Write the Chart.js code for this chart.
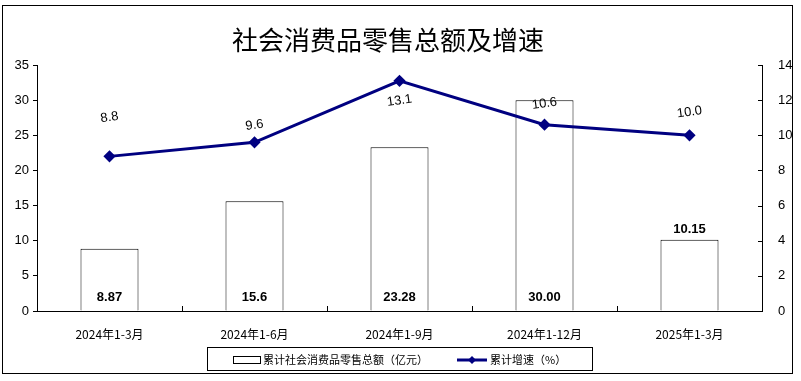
<!DOCTYPE html>
<html>
<head>
<meta charset="utf-8">
<script src="https://cdn.jsdelivr.net/npm/chart.js@4"></script>
<style>
  body { margin: 0; background: #fff; }
  #wrap { width: 801px; height: 381px; }
</style>
</head>
<body>
<div id="wrap"><canvas id="salesChart" width="801" height="381"></canvas></div>
<script>
const categories = ["2024年1-3月", "2024年1-6月", "2024年1-9月", "2024年1-12月", "2025年1-3月"];
const retailSales = [8.87, 15.6, 23.28, 30.00, 10.15];
const salesLabels = ["8.87", "15.6", "23.28", "30.00", "10.15"];
const growthRate = [8.8, 9.6, 13.1, 10.6, 10.0];
const growthLabels = ["8.8", "9.6", "13.1", "10.6", "10.0"];
const leftTicks = [0, 5, 10, 15, 20, 25, 30, 35];
const rightTicks = [0, 2, 4, 6, 8, 10, 12, 14];

const TITLE = "社会消费品零售总额及增速";
const SALES_NAME = "累计社会消费品零售总额（亿元）";
const GROWTH_NAME = "累计增速（%）";
const NAVY = "#000080";
const CJK = "'Noto Sans CJK SC', sans-serif";
const LATIN = "'Liberation Sans', Arial, sans-serif";

// label placement tweaks, per point (pixels relative to the mark)
const growthLabelShift = [-39, -17, 20, -21, -23];
const salesLabelInside = [true, true, true, true, false];

const framePlugin = {
  id: "frame",
  afterDraw(chart) {
    const ctx = chart.ctx;
    const area = chart.chartArea;
    const x = chart.scales.x;
    const y1 = chart.scales.y1;
    ctx.save();
    ctx.strokeStyle = "#000";
    ctx.lineWidth = 1;
    ctx.strokeRect(2.5, 5.5, 790, 368);

    // title
    ctx.fillStyle = "#000";
    ctx.font = "26px " + CJK;
    ctx.textAlign = "center";
    ctx.textBaseline = "middle";
    ctx.fillText(TITLE, 388, 40);

    // right axis ticks point inward
    ctx.beginPath();
    rightTicks.forEach(v => {
      const py = Math.round(y1.getPixelForValue(v)) + 0.5;
      ctx.moveTo(area.right - 4, py);
      ctx.lineTo(area.right, py);
    });
    // category separators on the x axis
    for (let i = 1; i < categories.length; i++) {
      const px = Math.round((x.getPixelForValue(i - 1) + x.getPixelForValue(i)) / 2) + 0.5;
      ctx.moveTo(px, area.bottom);
      ctx.lineTo(px, area.bottom - 5);
    }
    ctx.stroke();

    // legend
    ctx.strokeRect(207.5, 347.5, 385, 23);
    ctx.fillStyle = "#fff";
    ctx.fillRect(233.5, 356.5, 27, 7);
    ctx.strokeRect(233.5, 356.5, 27, 7);
    ctx.fillStyle = "#000";
    ctx.font = "11px " + CJK;
    ctx.textAlign = "left";
    ctx.fillText(SALES_NAME, 263, 360);

    ctx.strokeStyle = NAVY;
    ctx.lineWidth = 3;
    ctx.beginPath();
    ctx.moveTo(457, 360);
    ctx.lineTo(487, 360);
    ctx.stroke();
    ctx.fillStyle = NAVY;
    ctx.beginPath();
    ctx.moveTo(472, 356);
    ctx.lineTo(476, 360);
    ctx.lineTo(472, 364);
    ctx.lineTo(468, 360);
    ctx.closePath();
    ctx.fill();
    ctx.fillStyle = "#000";
    ctx.fillText(GROWTH_NAME, 490, 360);
    ctx.restore();
  }
};

const valueLabels = {
  id: "valueLabels",
  afterDatasetsDraw(chart) {
    const ctx = chart.ctx;
    const bars = chart.getDatasetMeta(0).data;
    const points = chart.getDatasetMeta(1).data;
    ctx.save();
    ctx.fillStyle = "#000";
    ctx.textAlign = "center";
    ctx.textBaseline = "middle";

    ctx.font = "bold 13px " + LATIN;
    bars.forEach((bar, i) => {
      const py = salesLabelInside[i] ? chart.chartArea.bottom - 14 : bar.y - 10;
      ctx.fillText(salesLabels[i], bar.x, py);
    });

    ctx.font = "13px " + LATIN;
    points.forEach((pt, i) => {
      ctx.save();
      ctx.translate(pt.x, pt.y + growthLabelShift[i]);
      ctx.rotate(-8 * Math.PI / 180);
      ctx.fillText(growthLabels[i], 0, 0);
      ctx.restore();
    });
    ctx.restore();
  }
};

new Chart(document.getElementById("salesChart"), {
  data: {
    labels: categories,
    datasets: [
      {
        type: "bar",
        label: SALES_NAME,
        data: retailSales,
        yAxisID: "y",
        backgroundColor: "#fff",
        borderColor: "#000",
        borderWidth: 1,
        barPercentage: 0.4,
        categoryPercentage: 1,
        order: 1
      },
      {
        type: "line",
        label: GROWTH_NAME,
        data: growthRate,
        yAxisID: "y1",
        borderColor: NAVY,
        backgroundColor: NAVY,
        borderWidth: 3,
        pointStyle: "rectRot",
        pointRadius: 4,
        tension: 0,
        order: 0
      }
    ]
  },
  options: {
    responsive: false,
    animation: false,
    layout: { padding: { top: 65, bottom: 40, left: 0, right: 0 } },
    plugins: {
      legend: { display: false },
      tooltip: { enabled: false }
    },
    scales: {
      x: {
        afterFit: s => { s.height = 30; },
        grid: { display: false },
        border: { color: "#000" },
        ticks: { color: "#000", font: { family: CJK, size: 12 }, padding: 8, maxRotation: 0 }
      },
      y: {
        position: "left",
        min: 0,
        max: 35,
        afterFit: s => { s.width = 37; },
        afterBuildTicks: s => { s.ticks = leftTicks.map(v => ({ value: v })); },
        grid: { drawOnChartArea: false, tickLength: 4, color: "#000" },
        border: { color: "#000" },
        ticks: { color: "#000", font: { family: LATIN, size: 13 }, padding: 4 }
      },
      y1: {
        position: "right",
        min: 0,
        max: 14,
        afterFit: s => { s.width = 39; },
        afterBuildTicks: s => { s.ticks = rightTicks.map(v => ({ value: v })); },
        grid: { display: false },
        border: { color: "#000" },
        ticks: { color: "#000", font: { family: LATIN, size: 13 }, padding: 8 }
      }
    }
  },
  plugins: [framePlugin, valueLabels]
});
</script>
</body>
</html>
